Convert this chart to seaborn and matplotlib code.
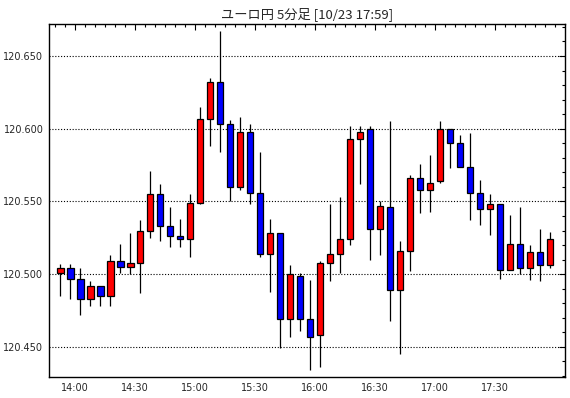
import matplotlib
matplotlib.use("Agg")
import matplotlib.pyplot as plt
import seaborn as sns
import numpy as np
import pandas as pd

title = "ユーロ円 5分足 [10/23 17:59]"
opens = [120.501, 120.504, 120.497, 120.483, 120.492, 120.485, 120.509, 120.505, 120.508, 120.530,
         120.555, 120.533, 120.526, 120.524, 120.549, 120.607, 120.632, 120.603, 120.560, 120.598,
         120.556, 120.514, 120.528, 120.469, 120.499, 120.469, 120.458, 120.508, 120.514, 120.524,
         120.593, 120.600, 120.531, 120.546, 120.489, 120.516, 120.566, 120.558, 120.564, 120.600,
         120.590, 120.574, 120.556, 120.545, 120.548, 120.503, 120.521, 120.504, 120.515, 120.506]
highs = [120.507, 120.507, 120.504, 120.495, 120.492, 120.513, 120.521, 120.528, 120.537, 120.571,
         120.562, 120.546, 120.538, 120.555, 120.615, 120.635, 120.667, 120.606, 120.608, 120.603,
         120.584, 120.538, 120.528, 120.506, 120.501, 120.496, 120.509, 120.548, 120.553, 120.602,
         120.602, 120.602, 120.550, 120.605, 120.523, 120.568, 120.576, 120.582, 120.605, 120.600,
         120.596, 120.597, 120.565, 120.555, 120.548, 120.541, 120.546, 120.520, 120.531, 120.529]
lows = [120.485, 120.483, 120.472, 120.478, 120.478, 120.478, 120.501, 120.500, 120.487, 120.525,
        120.523, 120.519, 120.519, 120.512, 120.548, 120.588, 120.584, 120.550, 120.558, 120.548,
        120.512, 120.488, 120.449, 120.457, 120.461, 120.434, 120.436, 120.495, 120.501, 120.520,
        120.562, 120.510, 120.513, 120.468, 120.445, 120.502, 120.542, 120.543, 120.563, 120.573,
        120.574, 120.537, 120.534, 120.527, 120.497, 120.503, 120.500, 120.496, 120.495, 120.504]
closes = [120.504, 120.497, 120.483, 120.492, 120.485, 120.509, 120.505, 120.508, 120.530, 120.555,
          120.533, 120.526, 120.524, 120.549, 120.607, 120.632, 120.603, 120.560, 120.598, 120.556,
          120.514, 120.528, 120.469, 120.500, 120.469, 120.457, 120.508, 120.514, 120.524, 120.593,
          120.598, 120.531, 120.547, 120.489, 120.516, 120.566, 120.558, 120.563, 120.600, 120.590,
          120.574, 120.556, 120.545, 120.548, 120.503, 120.521, 120.504, 120.515, 120.506, 120.524]
x_labels = ["14:00", "14:30", "15:00", "15:30", "16:00", "16:30", "17:00", "17:30"]
y_ticks = [120.450, 120.500, 120.550, 120.600, 120.650]

df = pd.DataFrame({"open": opens, "high": highs, "low": lows, "close": closes})
df["i"] = np.arange(len(df))
df["up"] = df["close"] >= df["open"]

sns.set_style("white")
plt.rcParams["font.family"] = ["DejaVu Sans", "Noto Sans CJK JP"]

fig = plt.figure(figsize=(5.70, 3.98), dpi=100)
ax = fig.add_axes([49 / 570, 1 - 377 / 398, (565 - 49) / 570, (377 - 24) / 398])

# wicks
ax.vlines(df["i"], df["low"], df["high"], color="black", lw=0.9, zorder=2)
# bodies
colors = np.where(df["up"], "#ff0000", "#0000ff")
bottoms = np.minimum(df["open"], df["close"])
heights = np.abs(df["close"] - df["open"])
ax.bar(df["i"], heights, bottom=bottoms, width=0.65, color=colors,
       edgecolor="black", linewidth=0.9, zorder=3)

ax.set_xlim(-1.13, 50.5)
ax.set_ylim(120.4293, 120.672)

ax.set_yticks(y_ticks)
ax.set_yticklabels([f"{v:.3f}" for v in y_ticks])
ax.set_yticks(np.arange(120.43, 120.672, 0.01), minor=True)
major_x = [1.5 + 6 * k for k in range(len(x_labels))]
ax.set_xticks(major_x)
ax.set_xticklabels(x_labels)
ax.set_xticks(np.arange(-0.5, 50.5, 1.0), minor=True)

ax.grid(axis="y", which="major", linestyle=(0, (1, 1.6)), color="black", lw=0.8)
ax.grid(axis="x", visible=False)
ax.tick_params(which="both", direction="in", top=True, right=True, color="black",
               labelsize=7, pad=4)
ax.tick_params(which="major", length=4, width=0.8)
ax.tick_params(which="minor", length=2.5, width=0.8)
for s in ax.spines.values():
    s.set_color("black")
    s.set_linewidth(1.0)

ax.set_title(title, fontsize=9.5, pad=4, family=["Noto Sans CJK JP", "DejaVu Sans"])

fig.savefig("out.png", dpi=100)
